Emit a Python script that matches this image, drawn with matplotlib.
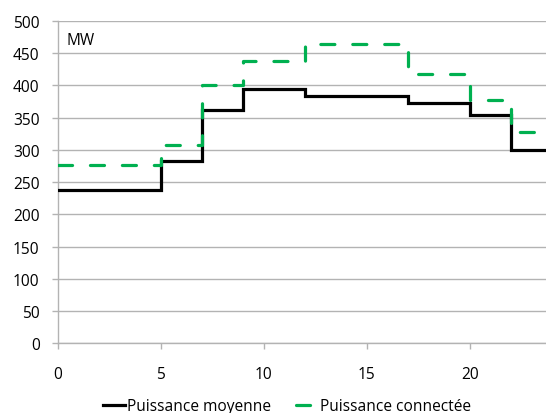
import matplotlib
matplotlib.use("Agg")
import matplotlib.pyplot as plt
from matplotlib.lines import Line2D

hours = [0, 5, 7, 9, 12, 17, 20, 22, 24]
puissance_moyenne = [238, 283, 362, 394, 383, 373, 354, 300, 300]
puissance_connectee = [276, 307, 401, 438, 465, 417, 377, 328, 328]
x_ticks = [0, 5, 10, 15, 20]
y_ticks = [0, 50, 100, 150, 200, 250, 300, 350, 400, 450, 500]

plt.rcParams['font.family'] = ['Open Sans', 'DejaVu Sans']
fs = 11.2

fig = plt.figure(figsize=(5.46, 4.14), dpi=100)
ax = fig.add_axes([0.1057, 0.168, 0.8943, 0.779])

grid_c = '#B3B3B3'
for y in y_ticks:
    ax.axhline(y, color=grid_c, lw=1.0, zorder=0)

ax.step(hours, puissance_moyenne, where='post', color='black', lw=2.3,
        zorder=3, solid_joinstyle='miter')
ax.step(hours, puissance_connectee, where='post', color='#00B050', lw=2.3,
        zorder=4, dashes=(4.4, 5.6), dash_capstyle='round')

ax.set_xlim(0, 23.7)
ax.set_ylim(0, 500)
ax.set_xticks(x_ticks)
ax.set_yticks(y_ticks)
ax.tick_params(axis='both', colors=grid_c, labelcolor='black', labelsize=fs,
               length=4, width=1, direction='out')
ax.tick_params(axis='x', pad=12)
ax.tick_params(axis='y', pad=9)
for s in ['top', 'right']:
    ax.spines[s].set_visible(False)
for s in ['left', 'bottom']:
    ax.spines[s].set_color(grid_c)
    ax.spines[s].set_linewidth(1.0)

ax.text(0.018, 0.94, 'MW', transform=ax.transAxes, fontsize=fs,
        va='center', ha='left')

handles = [Line2D([], [], color='black', lw=2.3),
           Line2D([], [], color='#00B050', lw=2.3, dashes=(4.4, 5.6),
                  dash_capstyle='round')]
fig.legend(handles, ['Puissance moyenne', 'Puissance connectée'],
           loc='center', bbox_to_anchor=(0.526, 0.017), ncol=2, frameon=False,
           fontsize=fs, handlelength=1.4, handletextpad=0.15, columnspacing=1.6,
           borderaxespad=0, borderpad=0)

fig.savefig('out.png', dpi=100)
